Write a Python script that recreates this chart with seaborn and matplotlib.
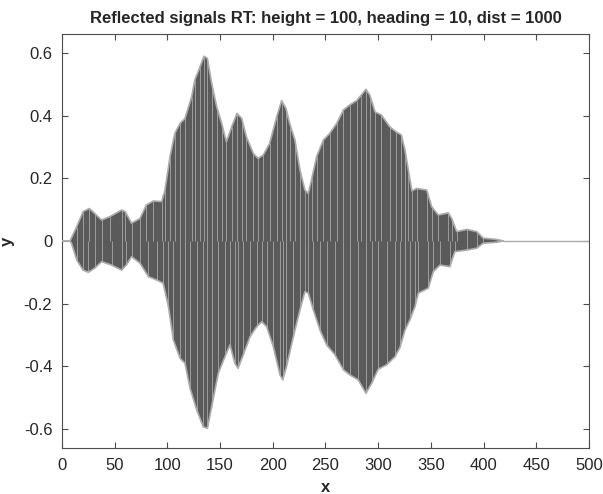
import numpy as np
import pandas as pd
import matplotlib
matplotlib.use("Agg")
import matplotlib.pyplot as plt
import seaborn as sns

# envelope of the reflected signal
up_x = [0, 7.6, 14, 20, 26, 31, 37.6, 45.5, 56.6, 60, 66, 74, 80, 86.6, 94.6, 97.7,
        102.5, 107, 112, 116.7, 123, 126, 131, 134.7, 138, 142, 146.8, 151.5, 156,
        161, 166, 170.5, 175, 181.5, 186, 191, 197, 203.7, 208.4, 212.5, 216, 221,
        225.8, 230.5, 233.7, 237, 241.6, 248, 254, 260.6, 267, 273, 279.6, 284,
        288.4, 292, 297, 303, 311, 317, 322, 325.4, 328.6, 332, 336.5, 346, 350.7,
        357, 366.5, 369.7, 374.5, 384, 393.5, 399.7, 412.5, 418.7]
up_y = [0, 0, 0.046, 0.094, 0.104, 0.088, 0.067, 0.078, 0.099, 0.094, 0.057, 0.072,
        0.115, 0.128, 0.126, 0.163, 0.27, 0.344, 0.376, 0.392, 0.461, 0.515, 0.557,
        0.591, 0.584, 0.504, 0.429, 0.376, 0.317, 0.365, 0.408, 0.392, 0.333, 0.28,
        0.264, 0.275, 0.312, 0.397, 0.449, 0.424, 0.376, 0.323, 0.227, 0.163, 0.152,
        0.2, 0.27, 0.323, 0.344, 0.376, 0.419, 0.435, 0.449, 0.467, 0.485, 0.467,
        0.413, 0.403, 0.365, 0.349, 0.339, 0.291, 0.227, 0.16, 0.168, 0.163, 0.11,
        0.083, 0.09, 0.072, 0.03, 0.037, 0.03, 0.009, 0.005, 0]

lo_x = [0, 7.6, 9, 14, 20, 25, 31, 37.6, 47, 56.6, 61, 66, 74, 82, 90, 96, 101,
        105.6, 112, 116.7, 121.4, 127.8, 134, 138, 142, 148.3, 154.6, 159.4, 164,
        167, 172, 178.4, 184.7, 189.5, 194.2, 200.5, 206.8, 209.4, 213, 219.5,
        225.8, 230.5, 233.7, 238.4, 244.8, 251, 259, 267, 273, 281, 288.4, 293.8,
        300, 308, 316, 320.7, 325.4, 330, 334.9, 338, 347.5, 352.3, 358.6, 368,
        372.7, 384, 393.5, 399.7, 412.5, 418.7]
lo_y = [0, 0, -0.007, -0.061, -0.093, -0.1, -0.087, -0.066, -0.077, -0.093, -0.077,
        -0.05, -0.071, -0.114, -0.125, -0.135, -0.21, -0.316, -0.375, -0.391, -0.47,
        -0.54, -0.594, -0.599, -0.53, -0.423, -0.37, -0.332, -0.391, -0.407, -0.364,
        -0.306, -0.274, -0.258, -0.274, -0.338, -0.428, -0.444, -0.402, -0.306,
        -0.22, -0.162, -0.167, -0.22, -0.285, -0.332, -0.364, -0.412, -0.428,
        -0.444, -0.487, -0.455, -0.41, -0.396, -0.37, -0.34, -0.285, -0.253, -0.21,
        -0.167, -0.151, -0.098, -0.077, -0.082, -0.034, -0.029, -0.023, -0.007,
        -0.004, 0]

tail_x = [418.7, 500]
tail_y = [0, 0]

sns.set_style("white")
plt.rcParams['font.family'] = ['Liberation Sans', 'DejaVu Sans']
plt.rcParams['xtick.direction'] = 'in'
plt.rcParams['ytick.direction'] = 'in'

body = '#5a5a5a'
rim = '#acacac'

fig = plt.figure(figsize=(6.03, 4.94), dpi=100)
ax = fig.add_axes([0.1028, 0.0931, 0.874, 0.8381])

# signal body
ax.fill(up_x + lo_x[::-1], up_y + lo_y[::-1], color=body, lw=0, zorder=2)
# light streaks of the carrier
ax.vlines(up_x[2:-1], 0, up_y[2:-1], color='#c8c8c8', lw=0.6, alpha=0.7, zorder=3)
ax.vlines(lo_x[3:-1], lo_y[3:-1], 0, color='#c8c8c8', lw=0.6, alpha=0.7, zorder=3)

up = pd.DataFrame({'x': up_x, 'y': up_y})
lo = pd.DataFrame({'x': lo_x, 'y': lo_y})
tail = pd.DataFrame({'x': tail_x, 'y': tail_y})
sns.lineplot(data=up, x='x', y='y', ax=ax, color=rim, lw=1.2, sort=False, zorder=4)
sns.lineplot(data=lo, x='x', y='y', ax=ax, color=rim, lw=1.2, sort=False, zorder=4)
sns.lineplot(data=tail, x='x', y='y', ax=ax, color=rim, lw=1.0, zorder=4)

ax.set_xlim(0, 500)
ax.set_ylim(-0.662, 0.662)
ax.set_xticks(np.arange(0, 501, 50))
ax.set_yticks([-0.6, -0.4, -0.2, 0, 0.2, 0.4, 0.6])
ax.set_yticklabels(['-0.6', '-0.4', '-0.2', '0', '0.2', '0.4', '0.6'])
ax.tick_params(axis='both', labelsize=12, colors='#262626', length=4, width=0.8,
               bottom=True, left=True, top=True, right=True, color='#4d4d4d')
ax.tick_params(axis='x', pad=7)
ax.tick_params(axis='y', pad=7)
for s in ax.spines.values():
    s.set_color('#4d4d4d')
    s.set_linewidth(0.8)

ax.set_xlabel('x', fontsize=12, fontweight='bold', labelpad=5)
ax.set_ylabel('y', fontsize=12, fontweight='bold')
ax.yaxis.set_label_coords(-0.09, 0.5)
ax.set_title('Reflected signals RT: height = 100, heading = 10, dist = 1000',
             fontsize=12, fontweight='bold', pad=8)

fig.savefig('out.png', dpi=100)
